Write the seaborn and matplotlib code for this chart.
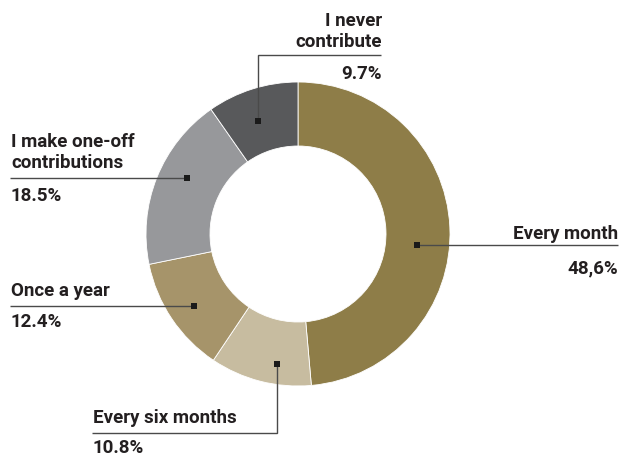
import matplotlib
matplotlib.use("Agg")
import matplotlib.pyplot as plt
import seaborn as sns

# Survey answers: how often respondents contribute
categories = ["Every month", "Every six months", "Once a year",
              "I make one-off\ncontributions", "I never\ncontribute"]
shares = [48.6, 10.8, 12.4, 18.5, 9.7]
value_labels = ["48,6%", "10.8%", "12.4%", "18.5%", "9.7%"]
colors = ["#8E7D48", "#C7BCA0", "#A6946A", "#97989B", "#58595B"]

sns.set_theme(style="white")
plt.rcParams["font.family"] = ["Roboto", "DejaVu Sans"]

W, H = 622, 457
fig = plt.figure(figsize=(W / 100, H / 100), dpi=100)
ax = fig.add_axes([0, 0, 1, 1])

cx, cy = 298, H - 234
r_out, r_in = 152, 88

wedges, _ = ax.pie(shares, colors=colors, startangle=90, counterclock=False,
                   center=(cx, cy), radius=r_out,
                   wedgeprops=dict(width=r_out - r_in, linewidth=0.6,
                                   edgecolor="white"))
ax.set_xlim(0, W)
ax.set_ylim(0, H)
ax.set_aspect("equal")
ax.axis("off")

ink = "#231F20"
line_c = "#4a4a4a"


def py(y):
    return H - y


txt = dict(fontsize=13.5, fontweight="bold", color=ink)

# Callout layout in pixel positions (top-left origin):
# anchor = small square on the ring, path = leader line vertices,
# name baselines / value baseline, text x and alignment
layouts = [
    dict(anchor=(417, 245), path=[(417, 245), (618, 245)],
         name_y=[239], val_y=273, tx=618, ha="right"),
    dict(anchor=(277, 364), path=[(277, 364), (277, 433), (92, 433)],
         name_y=[423], val_y=453, tx=93, ha="left"),
    dict(anchor=(194, 306), path=[(194, 306), (10, 306)],
         name_y=[296], val_y=327, tx=11, ha="left"),
    dict(anchor=(187, 178), path=[(187, 178), (10, 178)],
         name_y=[147, 168], val_y=201, tx=11, ha="left"),
    dict(anchor=(258, 121), path=[(258, 121), (258, 55), (381, 55)],
         name_y=[26, 47], val_y=79, tx=382, ha="right"),
]

for name, val, lay in zip(categories, value_labels, layouts):
    xs = [p[0] for p in lay["path"]]
    ys = [py(p[1]) for p in lay["path"]]
    ax.plot(xs, ys, color=line_c, lw=1.0, solid_capstyle="butt",
            solid_joinstyle="miter")
    ax_, ay_ = lay["anchor"]
    ax.plot([ax_], [py(ay_)], marker="s", ms=5, color="#1a1a1a", mew=0)
    for line, by in zip(name.split("\n"), lay["name_y"]):
        ax.text(lay["tx"], py(by), line, ha=lay["ha"], va="baseline", **txt)
    ax.text(lay["tx"], py(lay["val_y"]), val, ha=lay["ha"], va="baseline",
            **txt)

fig.savefig("out.png", dpi=100, facecolor="white")
